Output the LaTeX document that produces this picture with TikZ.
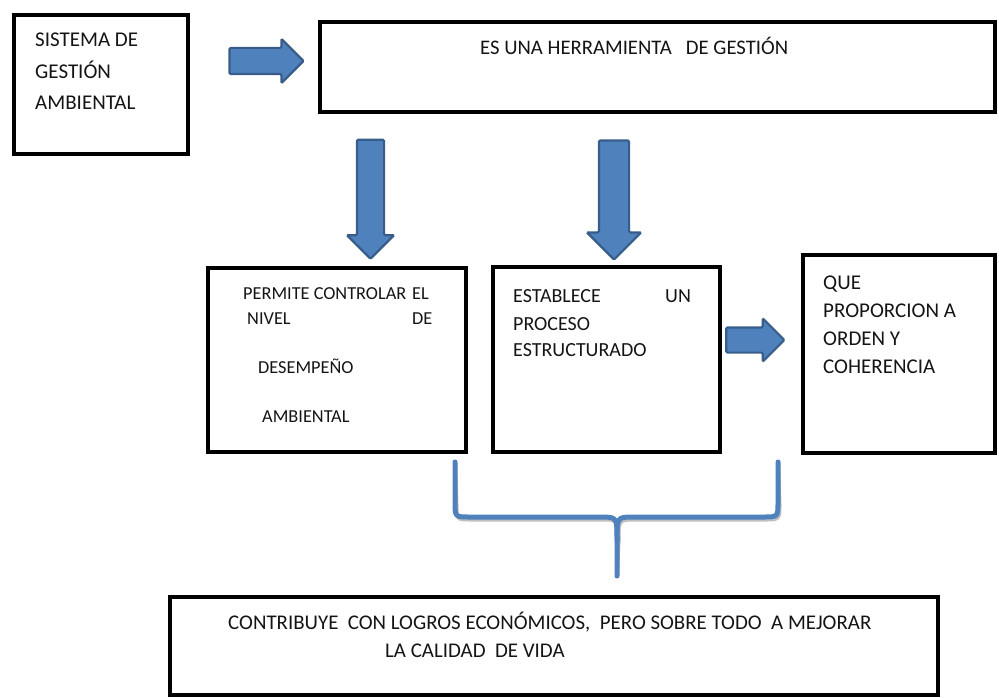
\documentclass[tikz,border=0pt]{standalone}
\usepackage{fontspec}
\setmainfont{Carlito}
\usetikzlibrary{shapes.arrows}
\definecolor{arrfill}{HTML}{4F81BD}
\definecolor{arrline}{HTML}{385D8A}
\begin{document}
\begin{tikzpicture}[x=1pt,y=-1pt,
  box/.style={draw=black,line width=4.5pt,rectangle,inner sep=0pt},
  txt/.style={anchor=base west,inner sep=0pt,text=black!92},
  blockarrow/.style={single arrow,fill=arrfill,draw=arrline,line width=2.2pt,
    inner xsep=0pt,text height=0pt,text depth=0pt,rounded corners=1.2pt},
  brace/.style={draw=arrfill,line width=5pt,line cap=round,line join=round}]
\useasboundingbox (0,0) rectangle (999,698);
% boxes
\node[box,minimum width=174pt,minimum height=139pt] (A) at (101,84.5) {};
\node[box,minimum width=675pt,minimum height=90pt] (B) at (657.5,67) {};
\node[box,minimum width=258pt,minimum height=184pt] (C) at (337,360) {};
\node[box,minimum width=227pt,minimum height=185pt] (D) at (606.5,359.5) {};
\node[box,minimum width=192pt,minimum height=198pt] (E) at (899,354) {};
\node[box,minimum width=768pt,minimum height=98pt] (F) at (554,646) {};
% texts
\node[txt,font=\fontsize{21}{21}\selectfont] (a1) at (35,47) {SISTEMA DE};
\node[txt,font=\fontsize{21}{21}\selectfont] (a2) at (35,79) {GESTIÓN};
\node[txt,font=\fontsize{21}{21}\selectfont] (a3) at (35,110) {AMBIENTAL};
\node[txt,font=\fontsize{20.7}{20.7}\selectfont] (b1) at (480,55) {ES UNA HERRAMIENTA\ \ \ DE GESTIÓN};
\node[txt,font=\fontsize{18.3}{18.3}\selectfont] (c1) at (243,299) {PERMITE CONTROLAR};
\node[txt,font=\fontsize{18.3}{18.3}\selectfont] (c2) at (412,299) {EL};
\node[txt,font=\fontsize{18.3}{18.3}\selectfont] (c3) at (247,324) {NIVEL};
\node[txt,font=\fontsize{18.3}{18.3}\selectfont] (c4) at (412,324) {DE};
\node[txt,font=\fontsize{18.3}{18.3}\selectfont] (c5) at (258,373) {DESEMPEÑO};
\node[txt,font=\fontsize{18.3}{18.3}\selectfont] (c6) at (262,422) {AMBIENTAL};
\node[txt,font=\fontsize{20}{20}\selectfont] (d1) at (513,302) {ESTABLECE};
\node[txt,font=\fontsize{20}{20}\selectfont] (d2) at (665,302) {UN};
\node[txt,font=\fontsize{20}{20}\selectfont] (d3) at (513,330) {PROCESO};
\node[txt,font=\fontsize{20}{20}\selectfont] (d4) at (513,356) {ESTRUCTURADO};
\node[txt,font=\fontsize{21}{21}\selectfont] (e1) at (823,289) {QUE};
\node[txt,font=\fontsize{21}{21}\selectfont] (e2) at (823,317) {PROPORCION A};
\node[txt,font=\fontsize{21}{21}\selectfont] (e3) at (823,345) {ORDEN Y};
\node[txt,font=\fontsize{21}{21}\selectfont] (e4) at (823,373) {COHERENCIA};
\node[txt,font=\fontsize{20.9}{20.9}\selectfont] (f1) at (228,629) {CONTRIBUYE\ \ CON LOGROS ECONÓMICOS,\ \ PERO SOBRE TODO\ \ A MEJORAR};
\node[txt,font=\fontsize{20.9}{20.9}\selectfont] (f2) at (385,657) {LA CALIDAD\ \ DE VIDA};
% block arrows
\node[blockarrow,minimum height=74pt,inner ysep=12pt,single arrow head extend=9pt] (r1) at (260,61) {};
\node[blockarrow,rotate=-90,minimum height=119pt,inner ysep=12.5pt,single arrow head extend=10pt] (d1a) at (370.5,192.5) {};
\node[blockarrow,rotate=-90,minimum height=119pt,inner ysep=14pt,single arrow head extend=12pt] (d2a) at (614,192.5) {};
\node[blockarrow,minimum height=58pt,inner ysep=11.5pt,single arrow head extend=9pt] (r2) at (749,340) {};
% brace
\coordinate (bl) at (455,462);
\coordinate (br) at (778,462);
\coordinate (bm) at (617,576);
\draw[brace,draw=black!25,line width=4pt,shift={(1.5,2.5)}] (bl) -- (455,502) .. controls (455,517) .. (470,517) -- (600,517) .. controls (617,517) .. (617,540) -- (bm);
\draw[brace,draw=black!25,line width=4pt,shift={(1.5,2.5)}] (br) -- (778,502) .. controls (778,517) .. (763,517) -- (634,517) .. controls (617,517) .. (617,540);
\draw[brace] (bl) -- (455,502) .. controls (455,517) .. (470,517) -- (600,517) .. controls (617,517) .. (617,540) -- (bm);
\draw[brace] (br) -- (778,502) .. controls (778,517) .. (763,517) -- (634,517) .. controls (617,517) .. (617,540);
\end{tikzpicture}
\end{document}
